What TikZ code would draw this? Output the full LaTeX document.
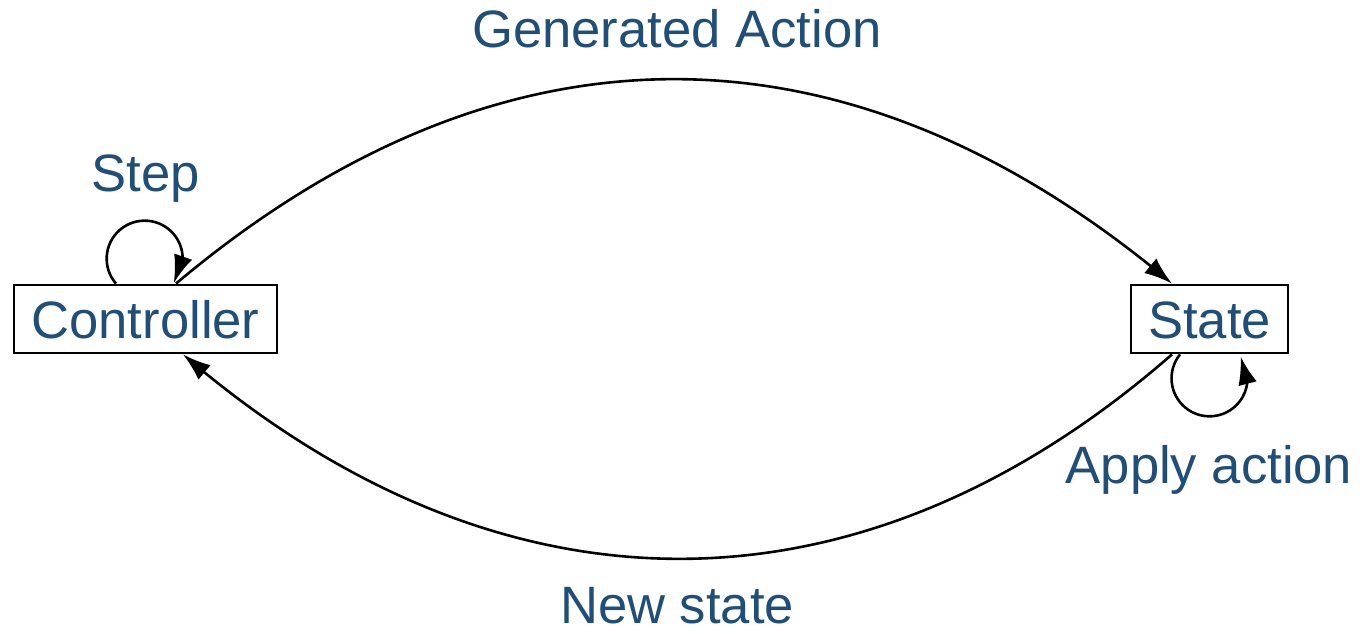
\documentclass[tikz,border=0pt]{standalone}
\usepackage{fontspec}
\setmainfont{Liberation Sans}
\usetikzlibrary{arrows.meta,bending}
\definecolor{txtblue}{RGB}{31,78,121}
\begin{document}
\begin{tikzpicture}[x=1pt,y=1pt]
\tikzset{
  lbl/.style={text=txtblue,font=\fontsize{52.6}{60}\selectfont,inner sep=0},
  boxnode/.style={draw,line width=2.8pt,inner sep=0,minimum height=68pt},
  conn/.style={line width=2.6pt,-{Latex[length=28pt,width=19pt,flex]}}}
\useasboundingbox (0,0) rectangle (1360,634);
\node[boxnode,minimum width=263pt] (ctrl) at (145.5,315) {};
\node[lbl,anchor=base] (ctrltxt) at (145.5,295) {Controller};
\node[boxnode,minimum width=157pt] (state) at (1209.5,315) {};
\node[lbl,anchor=base] (statetxt) at (1209.5,295) {State};
\node[lbl,anchor=base] (gen) at (677,586) {Generated Action};
\node[lbl,anchor=base] (stepl) at (145.5,442) {Step};
\node[lbl,anchor=base] (apply) at (1209,150) {Apply action};
\node[lbl,anchor=base] (newst) at (677,10) {New state};
\draw[conn] ([xshift=30.5pt]ctrl.north) .. controls (500,623) and (848,623) .. ([xshift=-37.5pt]state.north);
\draw[conn] ([xshift=-37.5pt]state.south) .. controls (860,7) and (500,7) .. ([xshift=37.5pt]ctrl.south);
\draw[conn] ([xshift=-29.5pt]ctrl.north) arc[start angle=221,end angle=-40,radius=38];
\draw[conn] ([xshift=-29.5pt]state.south) arc[start angle=141,end angle=395,radius=38];
\end{tikzpicture}
\end{document}
